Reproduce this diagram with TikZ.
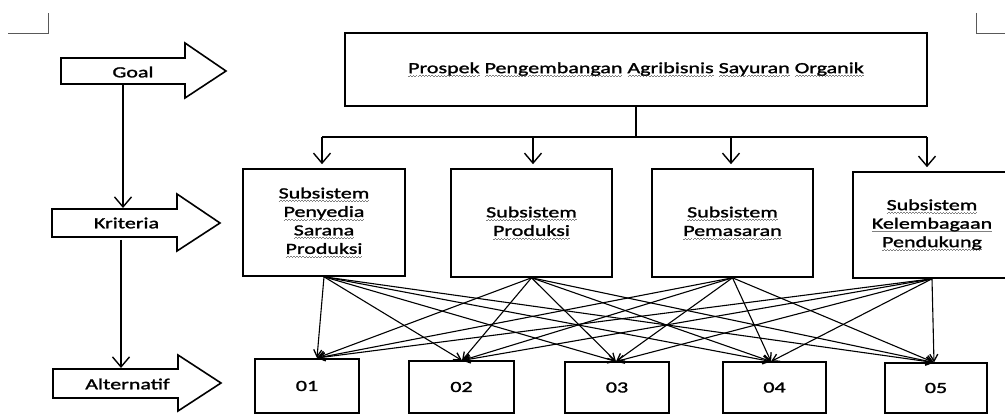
\documentclass[tikz,border=0pt]{standalone}
\usepackage{fontspec}
\setmainfont{Carlito}[FakeStretch=1.42,FakeBold=1.6]
\usetikzlibrary{arrows.meta}
\newsavebox\sqbox
\newcommand\sq[1]{\sbox\sqbox{#1}\leavevmode\rlap{\lower3.5pt\hbox to \wd\sqbox{\color{gray}\xleaders\hbox to 3pt{\rule{1.5pt}{0.8pt}\raise0.8pt\hbox{\rule{1.5pt}{0.8pt}}}\hfill}}\usebox\sqbox}
\tikzset{
  bx/.style={draw, line width=1.6pt, inner sep=0pt, align=center},
  lbl/.style={inner sep=0pt},
  bigarr/.style={-{Straight Barb[length=10pt,width=17pt,line width=1.4pt]}, line width=1.1pt},
  vline/.style={-{Straight Barb[length=10pt,width=17pt,line width=1.4pt]}, line width=1.6pt},
  xarr/.style={-{Straight Barb[length=7pt,width=8pt,line width=1.3pt]}, line width=1.1pt},
  outl/.style={draw, line width=1.6pt, line join=miter},
  cmark/.style={draw=gray!70!black, line width=1pt}
}
\begin{document}
\begin{tikzpicture}[x=1pt,y=-1pt,font=\fontsize{15.5pt}{18.5pt}\selectfont]
\useasboundingbox (0,0) rectangle (1005,414);

% corner marks
\draw[cmark] (8,34) -- (48,34) -- (48,13);
\draw[cmark] (976,13) -- (976,34) -- (1005,34);

% left block arrows
\draw[outl] (61,58) -- (185,58) -- (185,43) -- (226,71) -- (185,98) -- (185,84) -- (61,84) -- cycle;
\node[lbl] (lgoal) at (133,72) {Goal};
\draw[outl] (52,209) -- (177,209) -- (177,194) -- (220,223) -- (177,251) -- (177,237) -- (52,237) -- cycle;
\node[lbl] (lkrit) at (126.5,223) {Kriteria};
\draw[outl] (53,369) -- (178,369) -- (178,355) -- (221,383) -- (178,411) -- (178,398) -- (53,398) -- cycle;
\node[lbl] (lalt) at (127.5,384) {Alternatif};

\coordinate (gb) at (123,84);
\coordinate (kt) at (123,208);
\coordinate (kb) at (121,240);
\coordinate (at) at (121,368);
\draw[vline] (gb) -- (kt);
\draw[vline] (kb) -- (at);

% goal box
\node[bx, minimum width=582pt, minimum height=73pt] (goal) at (636,69.5)
  {\sq{Prospek} \sq{Pengembangan} \sq{Agribisnis} \sq{Sayuran} \sq{Organik}};

% criteria
\node[bx, minimum width=162pt, minimum height=107pt] (c1) at (324,222.5)
  {\sq{Subsistem}\\\sq{Penyedia}\\\sq{Sarana}\\\sq{Produksi}};
\node[bx, minimum width=161pt, minimum height=108pt] (c2) at (531.5,223)
  {\sq{Subsistem}\\\sq{Produksi}};
\node[bx, minimum width=161pt, minimum height=108pt] (c3) at (732.5,223)
  {\sq{Subsistem}\\\sq{Pemasaran}};
\node[bx, minimum width=158pt, minimum height=106pt] (c4) at (932,225)
  {\sq{Subsistem}\\\sq{Kelembagaan}\\\sq{Pendukung}};

% bus
\coordinate (bus) at (636,137);
\coordinate (b1) at (322,137);
\coordinate (b2) at (533,137);
\coordinate (b3) at (731,137);
\coordinate (b4) at (927,137);
\draw[line width=1.1pt] (goal.south) -- (bus);
\draw[line width=1.1pt] (b1) -- (b4);
\foreach \i in {1,...,4} {
  \draw[bigarr, shorten >=4pt] (b\i) -- (b\i |- c\i.north);
}

% alternatives
\node[bx, minimum width=104pt, minimum height=54pt] (a1) at (307,386) {01};
\node[bx, minimum width=105pt, minimum height=52pt] (a2) at (461.5,387) {02};
\node[bx, minimum width=104pt, minimum height=51pt] (a3) at (617,387.5) {03};
\node[bx, minimum width=103pt, minimum height=51pt] (a4) at (774.5,387.5) {04};
\node[bx, minimum width=102pt, minimum height=50pt] (a5) at (936,388) {05};

\coordinate (t1) at (317,358);
\coordinate (t2) at (462,360.5);
\coordinate (t3) at (616,361.5);
\coordinate (t4) at (771,361.5);
\coordinate (t5) at (934,362.5);

\foreach \s in {1,...,4} {
  \foreach \t in {1,...,5} {
    \draw[xarr] (c\s.south) -- (t\t);
  }
}
\end{tikzpicture}
\end{document}
